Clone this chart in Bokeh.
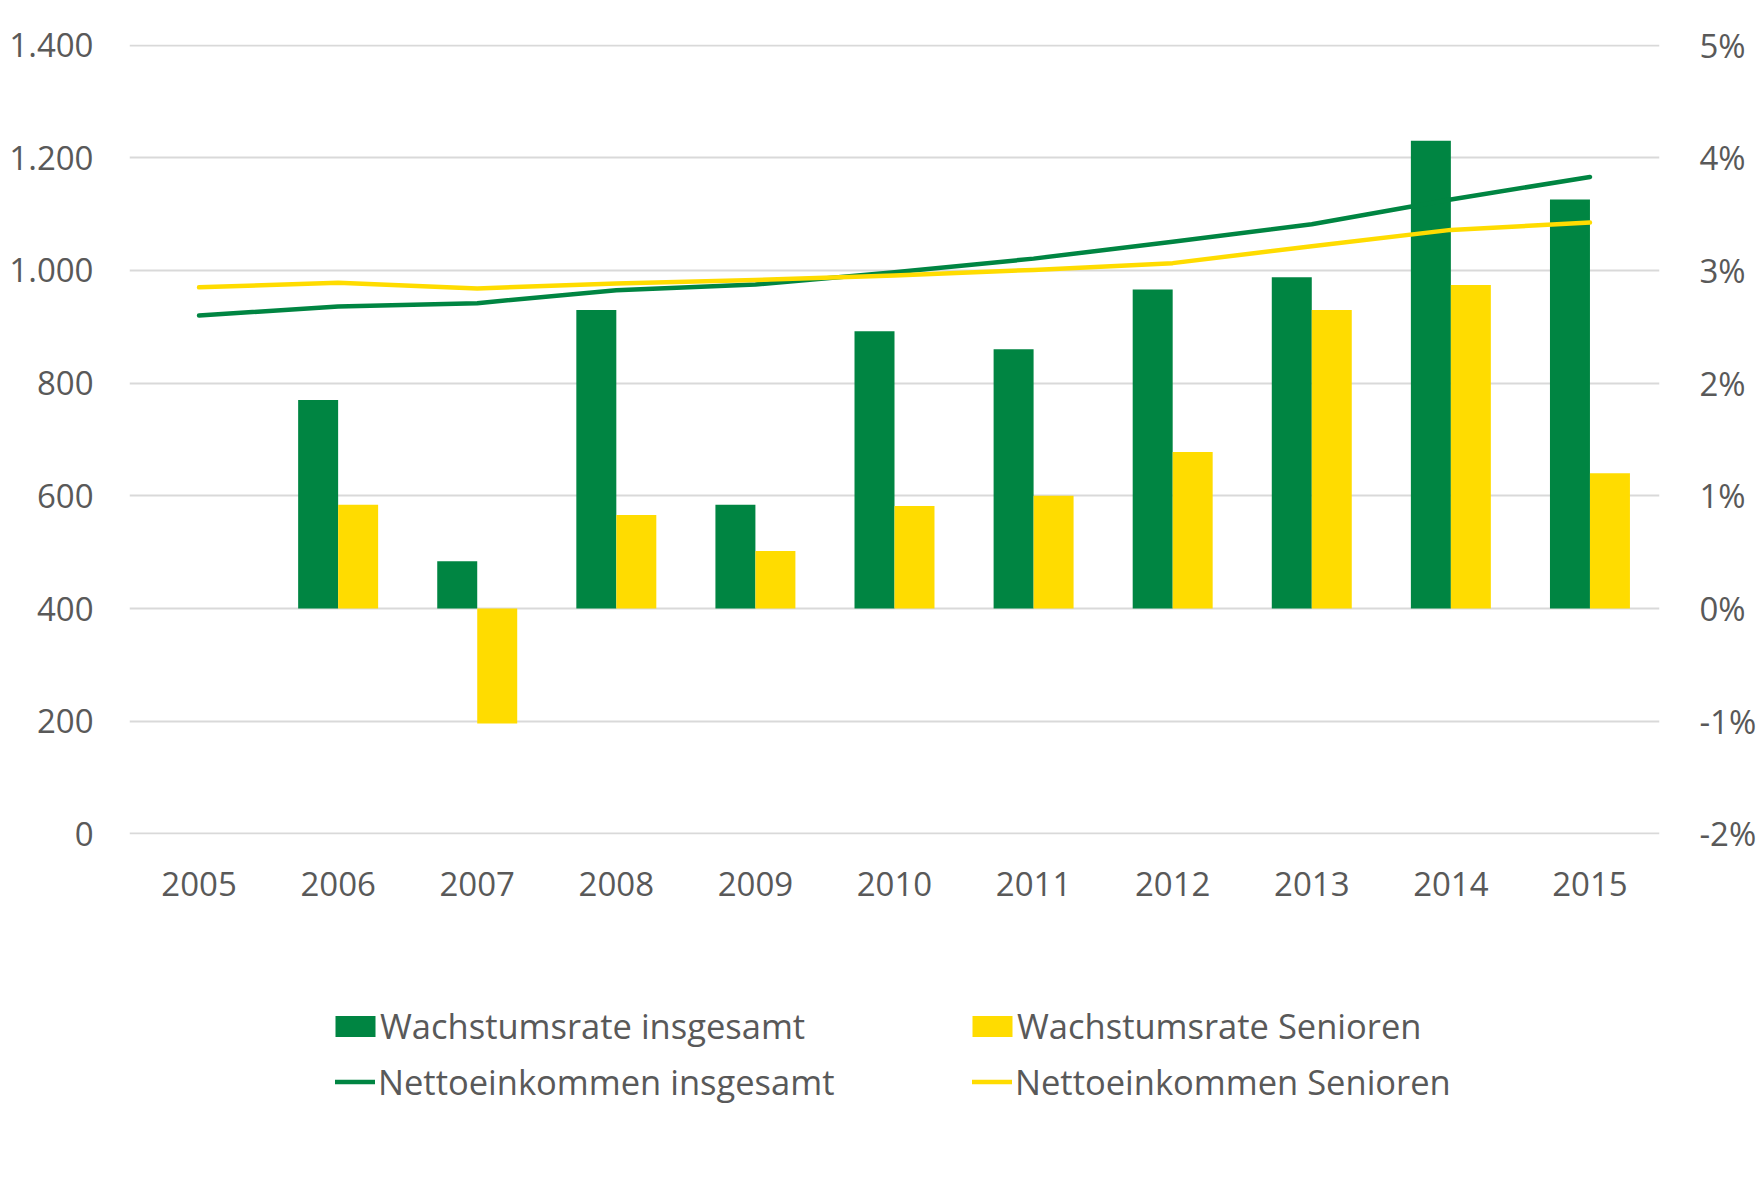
from bokeh.plotting import figure
from bokeh.layouts import column
from bokeh.models import (Range1d, LinearAxis, FactorRange, FixedTicker, Legend,
                          LegendItem, ColumnDataSource)
from bokeh.transform import dodge
from bokeh.embed import file_html
from bokeh.resources import INLINE

nan = float("nan")

years = ["2005", "2006", "2007", "2008", "2009", "2010",
         "2011", "2012", "2013", "2014", "2015"]
# growth rates in percent (right axis)
growth_total = [nan, 1.85, 0.42, 2.65, 0.92, 2.46, 2.30, 2.83, 2.94, 4.15, 3.63]
growth_seniors = [nan, 0.92, -1.02, 0.83, 0.51, 0.91, 1.00, 1.39, 2.65, 2.87, 1.20]
# net income (left axis)
income_total = [920, 936, 942, 965, 975, 997, 1021, 1051, 1082, 1126, 1166]
income_seniors = [970, 978, 968, 977, 983, 991, 1001, 1013, 1043, 1072, 1085]

left_ticks = [0, 200, 400, 600, 800, 1000, 1200, 1400]
left_tick_labels = ["0", "200", "400", "600", "800", "1.000", "1.200", "1.400"]
right_ticks = [-2, -1, 0, 1, 2, 3, 4, 5]
right_tick_labels = ["-2%", "-1%", "0%", "1%", "2%", "3%", "4%", "5%"]

series_names = ["Wachstumsrate insgesamt", "Wachstumsrate Senioren",
                "Nettoeinkommen insgesamt", "Nettoeinkommen Senioren"]

GREEN = "#008542"
YELLOW = "#FFDC00"
TEXT = "#595959"
GRID = "#D9D9D9"
FONT = "Open Sans"
FS = "33px"
LFS = "34.5px"

src = ColumnDataSource(dict(year=years, gt=growth_total, gs=growth_seniors,
                            it=income_total, is_=income_seniors))

p = figure(x_range=FactorRange(*years, range_padding=0),
           y_range=Range1d(-1, 1401),
           width=1760, height=930,
           output_backend="svg", toolbar_location=None,
           min_border_left=129, min_border_right=101,
           min_border_top=44, min_border_bottom=96)
p.outline_line_color = None
p.background_fill_color = "white"
p.border_fill_color = "white"

p.extra_y_ranges = {"pct": Range1d(-2.005, 5.005)}

left_axis = p.yaxis[0]
right_axis = LinearAxis(y_range_name="pct")
p.add_layout(right_axis, "right")

for ax in [left_axis, right_axis, p.xaxis[0]]:
    ax.axis_line_color = None
    ax.major_tick_line_color = None
    ax.minor_tick_line_color = None
    ax.major_tick_out = 0
    ax.major_tick_in = 0
    ax.major_label_text_font = FONT
    ax.major_label_text_font_size = FS
    ax.major_label_text_color = TEXT

left_axis.ticker = FixedTicker(ticks=left_ticks)
left_axis.major_label_overrides = dict(zip(left_ticks, left_tick_labels))
left_axis.major_label_standoff = 36

right_axis.ticker = FixedTicker(ticks=right_ticks)
right_axis.major_label_overrides = dict(zip(right_ticks, right_tick_labels))
right_axis.major_label_standoff = 40

p.xaxis[0].major_label_standoff = 37

p.xgrid.grid_line_color = None
p.ygrid.ticker = FixedTicker(ticks=left_ticks)
p.ygrid.grid_line_color = GRID
p.ygrid.grid_line_width = 2

bw = 0.2875
r_gt = p.vbar(x=dodge("year", -bw / 2, range=p.x_range), top="gt", bottom=0,
              width=bw, source=src, y_range_name="pct",
              fill_color=GREEN, line_color=None)
r_gs = p.vbar(x=dodge("year", bw / 2, range=p.x_range), top="gs", bottom=0,
              width=bw, source=src, y_range_name="pct",
              fill_color=YELLOW, line_color=None)
r_it = p.line(x="year", y="it", source=src, line_color=GREEN, line_width=4.5,
              line_cap="round", line_join="round")
r_is = p.line(x="year", y="is_", source=src, line_color=YELLOW, line_width=4.5,
              line_cap="round", line_join="round")

# ---- legend panel (separate figure below the chart) ----
q = figure(width=1760, height=250, x_range=Range1d(0, 1), y_range=Range1d(0, 1),
           x_axis_type=None, y_axis_type=None,
           output_backend="svg", toolbar_location=None,
           min_border_left=129, min_border_right=101, min_border_top=0,
           min_border_bottom=0)
q.outline_line_color = None
q.grid.grid_line_color = None
q.border_fill_color = "white"
q.background_fill_color = "white"

# legend key renderers: one point each, placed outside the visible range
off = [-10.0]
k_gt = q.vbar(x=off, top=off, width=0.1, fill_color=GREEN, line_color=None)
k_gs = q.vbar(x=off, top=off, width=0.1, fill_color=YELLOW, line_color=None)
k_it = q.line(x=[-10.0, -9.0], y=[-10.0, -10.0], line_color=GREEN,
              line_width=4.5, line_cap="round")
k_is = q.line(x=[-10.0, -9.0], y=[-10.0, -10.0], line_color=YELLOW,
              line_width=4.5, line_cap="round")


def make_legend(label, renderer, loc, gw, gh, standoff):
    lg = Legend(items=[LegendItem(label=label, renderers=[renderer])],
                location=loc, orientation="vertical")
    lg.glyph_width = gw
    lg.glyph_height = gh
    lg.label_standoff = standoff
    lg.padding = 0
    lg.margin = 0
    lg.border_line_color = None
    lg.background_fill_alpha = 0
    lg.label_text_font = FONT
    lg.label_text_font_size = LFS
    lg.label_text_color = TEXT
    return lg


ROW1_Y, ROW2_Y = 131, 75
COL1_X, COL2_X = 206, 843
q.add_layout(make_legend(series_names[0], k_gt, (COL1_X - 5, ROW1_Y), 50, 26, -2))
q.add_layout(make_legend(series_names[1], k_gs, (COL2_X - 5, ROW1_Y), 50, 26, -2))
q.add_layout(make_legend(series_names[2], k_it, (COL1_X, ROW2_Y), 40, 21, 3))
q.add_layout(make_legend(series_names[3], k_is, (COL2_X, ROW2_Y), 40, 21, 3))

layout = column(p, q, spacing=0)
open("out.html", "w").write(file_html(layout, INLINE))
